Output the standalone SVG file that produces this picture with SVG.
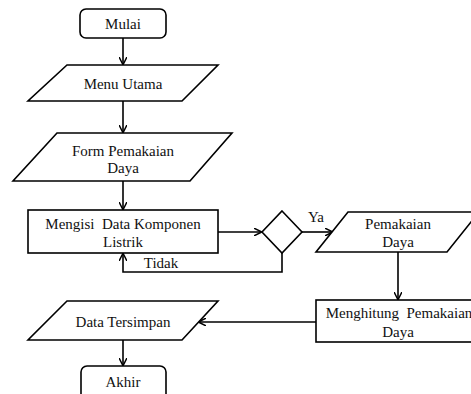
<svg xmlns="http://www.w3.org/2000/svg" width="471" height="394" viewBox="0 0 471 394">
<defs>
<style>
.s{fill:#fff;stroke:#000;stroke-width:1.6}
.c{fill:none;stroke:#000;stroke-width:1.6}
text{font-family:'Liberation Serif','Times New Roman','DejaVu Serif',serif;font-size:15px;fill:#111;text-anchor:middle;white-space:pre}
</style>
<marker id="ah" viewBox="0 0 10 10" refX="9" refY="5" markerWidth="8" markerHeight="8" orient="auto" markerUnits="userSpaceOnUse">
<path d="M0,0 L10,5 L0,10" fill="none" stroke="#000" stroke-width="1.8"/>
</marker>
</defs>
<rect width="471" height="394" fill="#fff"/>
<g id="connectors">
<line class="c" x1="123" y1="38" x2="123" y2="64" marker-end="url(#ah)"/>
<line class="c" x1="123" y1="101" x2="123" y2="132" marker-end="url(#ah)"/>
<line class="c" x1="123" y1="181" x2="123" y2="209" marker-end="url(#ah)"/>
<line class="c" x1="218" y1="232" x2="261" y2="232" marker-end="url(#ah)"/>
<polyline class="c" points="282,253 282,272 123,272 123,254" marker-end="url(#ah)"/>
<line class="c" x1="302" y1="232" x2="332" y2="232" marker-end="url(#ah)"/>
<line class="c" x1="398" y1="252" x2="398" y2="299" marker-end="url(#ah)"/>
<line class="c" x1="316" y1="322" x2="199" y2="322" marker-end="url(#ah)"/>
<line class="c" x1="123" y1="340" x2="123" y2="365" marker-end="url(#ah)"/>
<text x="161" y="268">Tidak</text>
<text x="316" y="222">Ya</text>
</g>
<g id="mulai">
<rect class="s" x="80" y="9" width="86" height="29" rx="6"/>
<text x="123" y="29">Mulai</text>
</g>
<g id="menu-utama">
<polygon class="s" points="67,65 218,65 182,101 28,101"/>
<text x="123" y="89">Menu Utama</text>
</g>
<g id="form-pemakaian">
<polygon class="s" points="57,133 232,133 190,181 13,181"/>
<text x="123" y="156">Form Pemakaian</text>
<text x="123" y="173">Daya</text>
</g>
<g id="mengisi-data">
<rect class="s" x="28" y="210" width="190" height="43"/>
<text x="123" y="229" xml:space="preserve">Mengisi  Data Komponen</text>
<text x="123" y="247">Listrik</text>
</g>
<g id="decision">
<polygon class="s" points="282,211 302,232 282,253 262,232"/>
</g>
<g id="pemakaian-daya">
<polygon class="s" points="348,212 479,212 447,252 316,252"/>
<text x="398" y="229">Pemakaian</text>
<text x="398" y="247">Daya</text>
</g>
<g id="menghitung">
<rect class="s" x="316" y="300" width="160" height="42"/>
<text x="399" y="318" xml:space="preserve">Menghitung  Pemakaian</text>
<text x="398" y="337">Daya</text>
</g>
<g id="data-tersimpan">
<polygon class="s" points="67,301 218,301 182,340 28,340"/>
<text x="123" y="327">Data Tersimpan</text>
</g>
<g id="akhir">
<rect class="s" x="81" y="366" width="85" height="34" rx="6"/>
<text x="123" y="387">Akhir</text>
</g>
</svg>
